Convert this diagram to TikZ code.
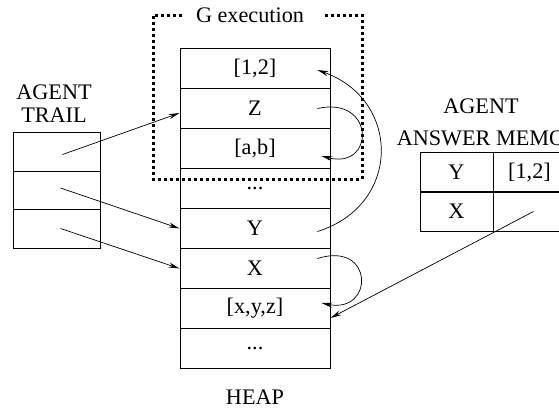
\documentclass[tikz,border=0pt]{standalone}
\usepackage{fontspec}
\setmainfont{Liberation Serif}
\usetikzlibrary{shapes,arrows.meta}

\begin{document}
\begin{tikzpicture}[x=1bp, y=-1bp, font=\fontsize{22.3}{23}\selectfont]
\tikzstyle{cellh}=[rectangle, draw, line width=0.9bp, minimum width=150bp, minimum height=40bp, inner sep=0pt]
\tikzstyle{cellt}=[rectangle, draw, line width=0.9bp, minimum width=87bp, minimum height=39bp, inner sep=0pt]
\tikzstyle{cellm}=[rectangle, draw, line width=0.9bp, minimum width=73bp, minimum height=39bp, inner sep=0pt]
\tikzstyle{labelstyle}=[inner sep=0pt, align=center]
\tikzstyle{drawstyle}=[line width=0.7bp, -{Stealth[length=11bp, width=5bp]}]
\tikzstyle{framestyle}=[line width=3bp, dash pattern=on 3bp off 3bp]
\useasboundingbox (0,0) rectangle (559,409);
\clip (0,0) rectangle (559,409);

% heap
\node[cellh] (H0) at (255,68.5) {[1,2]};
\node[cellh] (H1) at (255,108.5) {Z};
\node[cellh] (H2) at (255,148.5) {[a,b]};
\node[cellh] (H3) at (255,188.5) {...};
\node[cellh] (H4) at (255,228.5) {Y};
\node[cellh] (H5) at (255,268.5) {X};
\node[cellh] (H6) at (255,308.5) {[x,y,z]};
\node[cellh] (H7) at (255,348.5) {...};
\node[labelstyle] (Hlabel) at (255,397) {HEAP};

% G execution frame
\node[labelstyle] (Glabel) at (250,15) {G execution};
\draw[framestyle] ([xshift=-14bp]Glabel.west) -| (153,179) -| (362,15) -- ([xshift=18bp]Glabel.east);

% trail
\node[labelstyle] (Tlabel) at (54,104) {AGENT\\TRAIL};
\node[cellt] (T0) at (56.5,151.5) {};
\node[cellt, minimum height=38bp] (T1) at (56.5,190) {};
\node[cellt] (T2) at (56.5,228.5) {};

% answer memo
\node[labelstyle] (Mlabel0) at (481,106) {AGENT};
\node[labelstyle] (Mlabel1) at (481,138) {ANSWER MEMO};
\node[cellm] (M0x0) at (456.5,172) {Y};
\node[cellm] (M0x1) at (529.5,172) {[1,2]};
\node[cellm] (M1x0) at (456.5,211.5) {X};
\node[cellm] (M1x1) at (529.5,211.5) {};

% trail pointers
\draw[drawstyle] ([xshift=6bp,yshift=-3bp]T0.center) -- ([yshift=-4.5bp]H1.west);
\draw[drawstyle] ([xshift=4bp,yshift=2bp]T1.center) -- (H4.west);
\draw[drawstyle] ([xshift=4bp]T2.center) -- (H5.west);
\draw[drawstyle] ([xshift=4bp]M1x1.center) -- ([yshift=-9.5bp]H6.east);

% heap links
\draw[drawstyle] ([xshift=-13bp]H1.east) .. controls +(58,-13) and +(54,14) .. ([xshift=-9bp,yshift=-7.5bp]H2.east);
\draw[drawstyle] ([xshift=-13bp,yshift=-3bp]H4.east) .. controls +(84,-26) and +(84,30) .. ([xshift=-13bp,yshift=-1.5bp]H0.east);
\draw[drawstyle] ([xshift=-13bp,yshift=10bp]H5.east) .. controls +(57,-18) and +(53,11) .. ([xshift=-9bp,yshift=5.5bp]H6.east);
\end{tikzpicture}
\end{document}
